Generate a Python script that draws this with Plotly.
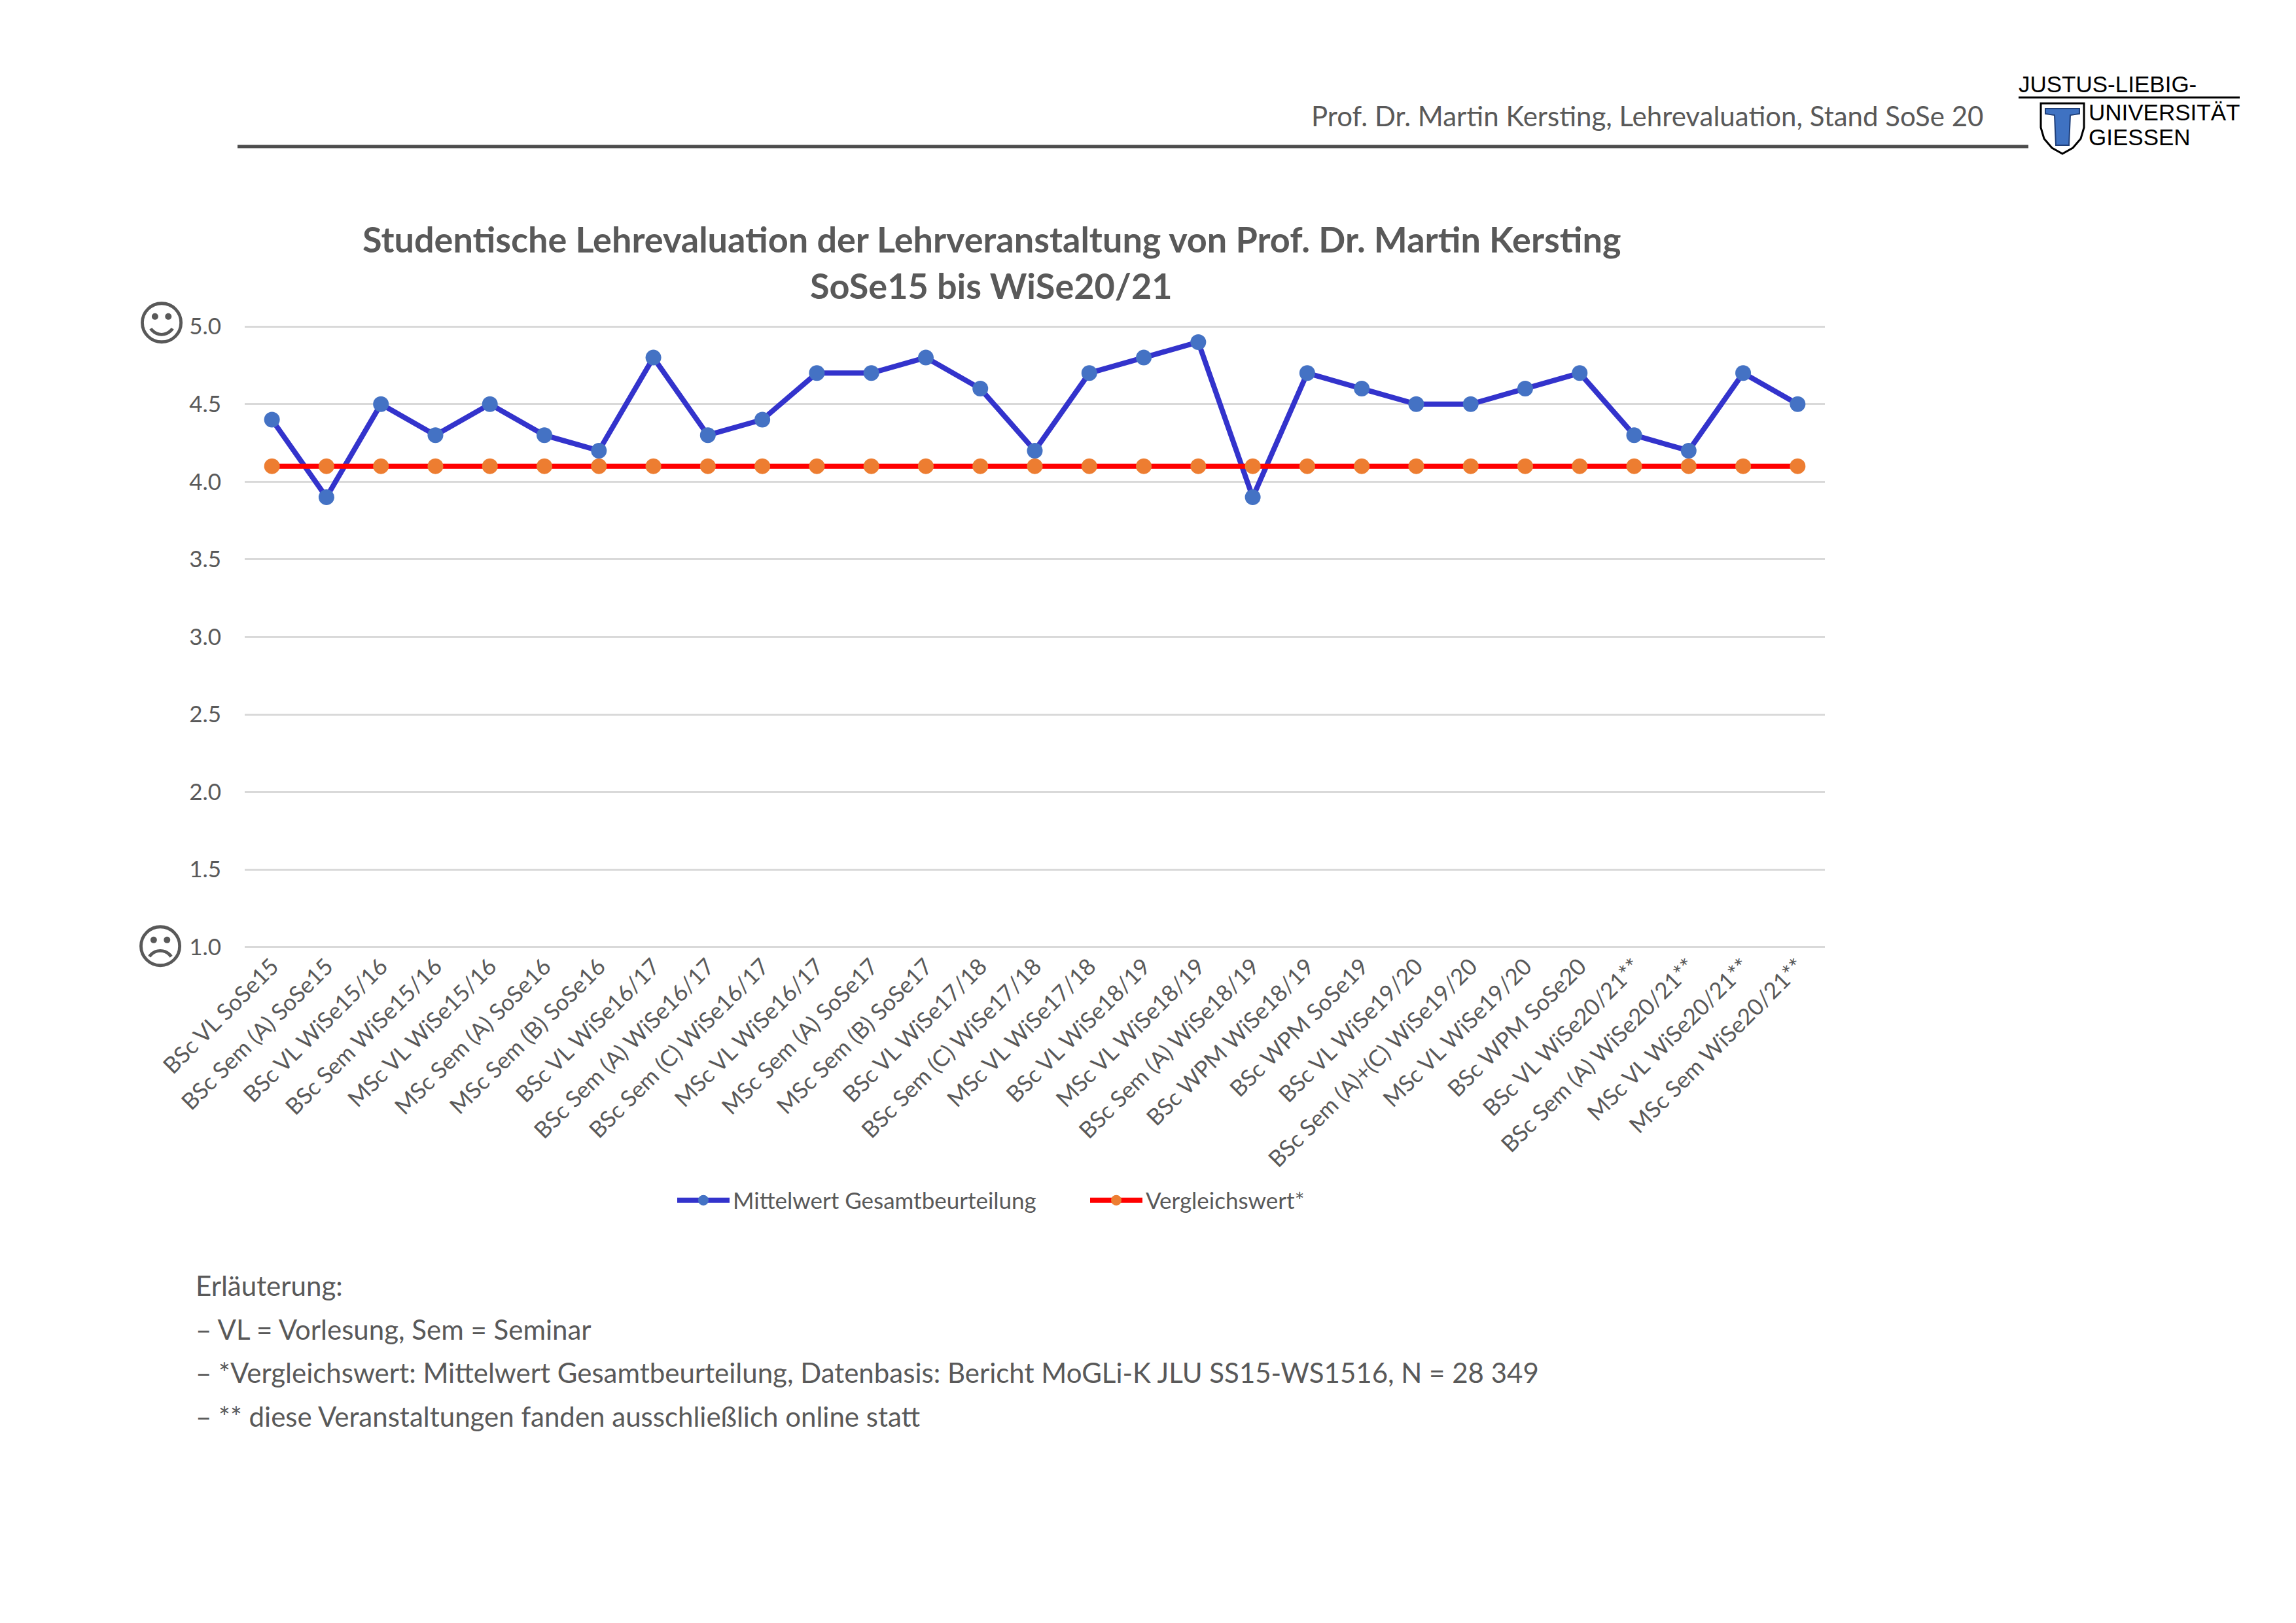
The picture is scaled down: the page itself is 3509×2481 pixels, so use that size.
import plotly.graph_objects as go

W, H = 3509, 2481

categories = [
    "BSc VL SoSe15", "BSc Sem (A) SoSe15", "BSc VL WiSe15/16", "BSc Sem WiSe15/16",
    "MSc VL WiSe15/16", "MSc Sem (A) SoSe16", "MSc Sem (B) SoSe16", "BSc VL WiSe16/17",
    "BSc Sem (A) WiSe16/17", "BSc Sem (C) WiSe16/17", "MSc VL WiSe16/17", "MSc Sem (A) SoSe17",
    "MSc Sem (B) SoSe17", "BSc VL WiSe17/18", "BSc Sem (C) WiSe17/18", "MSc VL WiSe17/18",
    "BSc VL WiSe18/19", "MSc VL WiSe18/19", "BSc Sem (A) WiSe18/19", "BSc WPM WiSe18/19",
    "BSc WPM SoSe19", "BSc VL WiSe19/20", "BSc Sem (A)+(C) WiSe19/20", "MSc VL WiSe19/20",
    "BSc WPM SoSe20", "BSc VL WiSe20/21**", "BSc Sem (A) WiSe20/21**", "MSc VL WiSe20/21**",
    "MSc Sem WiSe20/21**",
]
mittelwert = [4.4, 3.9, 4.5, 4.3, 4.5, 4.3, 4.2, 4.8, 4.3, 4.4, 4.7, 4.7, 4.8, 4.6, 4.2,
              4.7, 4.8, 4.9, 3.9, 4.7, 4.6, 4.5, 4.5, 4.6, 4.7, 4.3, 4.2, 4.7, 4.5]
vergleichswert = [4.1] * len(categories)
y_ticks = [1.0, 1.5, 2.0, 2.5, 3.0, 3.5, 4.0, 4.5, 5.0]

FONT = "Lato"
GREY = "#595959"


def px(x, y):
    # pixel position on the page -> paper coordinates
    return x / W, 1 - y / H


fig = go.Figure()
fig.add_trace(go.Scatter(
    x=categories, y=mittelwert, name="Mittelwert Gesamtbeurteilung", mode="lines+markers",
    line=dict(color="#3333CC", width=8), marker=dict(color="#4472C4", size=24),
))
fig.add_trace(go.Scatter(
    x=categories, y=vergleichswert, name="Vergleichswert*", mode="lines+markers",
    line=dict(color="#FF0000", width=8), marker=dict(color="#ED7D31", size=24),
))

x0, y_top = px(374, 498)
x1, y_bot = px(2789, 1449)

fig.update_layout(
    width=W, height=H,
    margin=dict(l=0, r=0, t=0, b=0),
    paper_bgcolor="white", plot_bgcolor="white",
    font=dict(family=FONT, color=GREY, size=35),
    showlegend=True,
    legend=dict(orientation="h", x=px(1030, 0)[0], y=px(0, 1835)[1],
                xanchor="left", yanchor="middle", itemwidth=80,
                entrywidth=536, entrywidthmode="pixels",
                font=dict(size=35, color=GREY)),
    xaxis=dict(domain=[x0, x1], range=[-0.5, len(categories) - 0.5], tickangle=-45,
               showgrid=False, showline=False, zeroline=False, ticks="", automargin=False,
               tickfont=dict(size=35, color=GREY)),
    yaxis=dict(domain=[y_bot, y_top], range=[0.995, 5.005], tickvals=y_ticks,
               tickformat=".1f", showgrid=True, gridcolor="#D9D9D9", gridwidth=3,
               showline=False, zeroline=False, ticks="", automargin=False,
               ticklabelstandoff=35, tickfont=dict(size=35, color=GREY)),
)

annotations = []


def text(x, y, s, size, anchor="left", color=GREY, family=FONT, weight="normal"):
    ax, ay = px(x, y)
    annotations.append(dict(x=ax, y=ay, xref="paper", yref="paper", text=s,
                            showarrow=False, xanchor=anchor, yanchor="middle",
                            font=dict(size=size, color=color, family=family, weight=weight)))


# chart title
text(1515, 365, "Studentische Lehrevaluation der Lehrveranstaltung von Prof. Dr. Martin Kersting",
     54, anchor="center", weight="bold")
text(1515, 436, "SoSe15 bis WiSe20/21", 54, anchor="center", weight="bold")

# smileys
text(247, 494, "\u263a", 73, anchor="center", family="DejaVu Sans")
text(245, 1447, "\u2639", 73, anchor="center", family="DejaVu Sans")

# page header
text(3033, 177, "Prof. Dr. Martin Kersting, Lehrevaluation, Stand SoSe 20", 42, anchor="right")
logo_font = "Liberation Sans Narrow, Liberation Sans"
text(3083, 128, "JUSTUS-LIEBIG-", 35, color="black", family=logo_font)
text(3190, 172, "UNIVERSITÄT", 35, color="black", family=logo_font)
text(3190, 210, "GIESSEN", 35, color="black", family=logo_font)

# explanation
notes = [
    "Erläuterung:",
    "– VL = Vorlesung, Sem = Seminar",
    "– *Vergleichswert: Mittelwert Gesamtbeurteilung, Datenbasis: Bericht MoGLi-K JLU SS15-WS1516, N = 28 349",
    "– ** diese Veranstaltungen fanden ausschließlich online statt",
]
for i, line in enumerate(notes):
    text(297, 1965 + i * 66.5, line, 42)

fig.update_layout(annotations=annotations)

# header rules
hx0, hy = px(363, 224)
hx1, _ = px(3100, 224)
fig.add_shape(type="line", xref="paper", yref="paper", x0=hx0, x1=hx1, y0=hy, y1=hy,
              line=dict(color="#4D4D4D", width=5))
lx0, ly = px(3085, 149)
lx1, _ = px(3423, 149)
fig.add_shape(type="line", xref="paper", yref="paper", x0=lx0, x1=lx1, y0=ly, y1=ly,
              line=dict(color="black", width=3))


def path(points, close=True):
    parts = []
    for i, (a, b) in enumerate(points):
        u, v = px(a, b)
        parts.append(("M" if i == 0 else "L") + f"{u:.5f},{v:.5f}")
    return " ".join(parts) + (" Z" if close else "")


# shield
shield = [(3119, 158), (3185, 158), (3185, 195), (3180, 212), (3168, 226), (3152, 235),
          (3136, 226), (3124, 212), (3119, 195)]
fig.add_shape(type="path", xref="paper", yref="paper", path=path(shield),
              fillcolor="white", line=dict(color="black", width=3))
tee = [(3126, 166), (3178, 166), (3178, 174), (3164, 176), (3162, 222), (3142, 222),
       (3140, 176), (3126, 174)]
fig.add_shape(type="path", xref="paper", yref="paper", path=path(tee),
              fillcolor="#3F72C2", line=dict(color="#1F3F7A", width=2))

fig.write_html("out.html", config={"displayModeBar": False},
               post_script="document.body.style.margin='0';")
